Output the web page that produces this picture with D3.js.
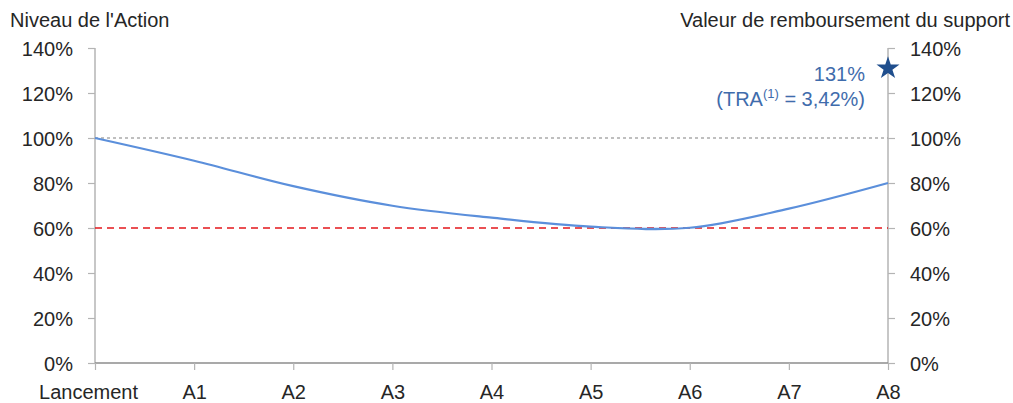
<!DOCTYPE html>
<html>
<head>
<meta charset="utf-8">
<script src="https://cdn.jsdelivr.net/npm/d3@7"></script>
<style>
  html, body { margin: 0; padding: 0; background: #fff; }
  svg { display: block; font-family: "Liberation Sans", Arial, sans-serif; }
  text { fill: #262626; }
</style>
</head>
<body>
<svg id="chart" width="1013" height="403"></svg>
<script>
// Observation dates
const categories = ["Lancement", "A1", "A2", "A3", "A4", "A5", "A6", "A7", "A8"];
// Share level (% of initial level) at each date
const actionLevel = [100, 89.9, 78.6, 69.9, 64.6, 60.6, 60.1, 68.6, 80];
// Axis ticks (%)
const yTicks = [0, 20, 40, 60, 80, 100, 120, 140];
// Reference levels
const initialLevel = 100;
const barrierLevel = 60;
// Final redemption value
const redemptionValue = 131;
const redemptionLabel = "131%";
const traLabel = ["(TRA", "(1)", " = 3,42%)"];

const svg = d3.select("#chart");
const plotLeft = 95, plotRight = 888, plotTop = 48, plotBottom = 363;
const fontSize = 20;

const x = d3.scalePoint().domain(categories).range([plotLeft, plotRight]);
const y = d3.scaleLinear().domain([0, 140]).range([plotBottom, plotTop]);

const axisGrey = "#b4b4b4";
const fmt = d => d + "%";

// Left axis
const gL = svg.append("g").attr("transform", `translate(${plotLeft},0)`)
  .call(d3.axisLeft(y).tickValues(yTicks).tickFormat(fmt).tickSize(7).tickPadding(15));
// Right axis
const gR = svg.append("g").attr("transform", `translate(${plotRight},0)`)
  .call(d3.axisRight(y).tickValues(yTicks).tickFormat(fmt).tickSize(7).tickPadding(15));
[gL, gR].forEach(g => {
  g.select(".domain").attr("stroke", axisGrey).attr("stroke-width", 1.5).attr("d", `M0,${plotTop}V${plotBottom}`);
  g.selectAll(".tick line").attr("stroke", axisGrey).attr("stroke-width", 1.2);
  g.selectAll(".tick text").attr("font-size", fontSize).attr("fill", "#262626")
    .attr("font-family", "inherit").attr("dy", "0.36em");
});

// Bottom axis
const gB = svg.append("g").attr("transform", `translate(0,${plotBottom})`)
  .call(d3.axisBottom(x).tickSize(7).tickPadding(14));
gB.select(".domain").attr("stroke", "#8c8c8c").attr("stroke-width", 1.5).attr("d", `M${plotLeft},0H${plotRight}`);
gB.selectAll(".tick line").attr("stroke", axisGrey).attr("stroke-width", 1.2);
gB.selectAll(".tick text").attr("font-size", fontSize).attr("fill", "#262626").attr("font-family", "inherit")
  .attr("dy", "0.75em");
gB.selectAll(".tick text").filter(d => d === "Lancement").attr("dx", -7);

// Reference lines
svg.append("line")
  .attr("x1", plotLeft).attr("x2", plotRight)
  .attr("y1", y(initialLevel)).attr("y2", y(initialLevel))
  .attr("stroke", "#aaaaaa").attr("stroke-width", 1.3).attr("stroke-dasharray", "3,3");
svg.append("line")
  .attr("x1", plotLeft).attr("x2", plotRight)
  .attr("y1", y(barrierLevel)).attr("y2", y(barrierLevel))
  .attr("stroke", "#e3171b").attr("stroke-width", 1.3).attr("stroke-dasharray", "7,5");

// Share path
const line = d3.line()
  .x((d, i) => x(categories[i]))
  .y(d => y(d))
  .curve(d3.curveCatmullRom.alpha(0.5));
svg.append("path")
  .datum(actionLevel)
  .attr("fill", "none")
  .attr("stroke", "#5b8fdb")
  .attr("stroke-width", 2.2)
  .attr("d", line);

// Redemption star
svg.append("path")
  .attr("d", d3.symbol().type(d3.symbolStar).size(165)())
  .attr("transform", `translate(${x("A8")},${y(redemptionValue)})`)
  .attr("fill", "#1f4e8d");

const blue = "#3f6cac";
svg.append("text")
  .attr("x", 865).attr("y", 81)
  .attr("text-anchor", "end").attr("font-size", fontSize)
  .style("fill", blue)
  .text(redemptionLabel);
const t = svg.append("text")
  .attr("x", 865).attr("y", 106)
  .attr("text-anchor", "end").attr("font-size", fontSize)
  .style("fill", blue);
t.append("tspan").text(traLabel[0]);
t.append("tspan").attr("font-size", 13).attr("dy", -8).text(traLabel[1]);
t.append("tspan").attr("dy", 8).text(traLabel[2]);

// Axis titles
svg.append("text").attr("x", 10).attr("y", 27).attr("font-size", fontSize).text("Niveau de l'Action");
svg.append("text").attr("x", 1010).attr("y", 27).attr("font-size", fontSize)
  .attr("text-anchor", "end").text("Valeur de remboursement du support");
</script>
</body>
</html>
